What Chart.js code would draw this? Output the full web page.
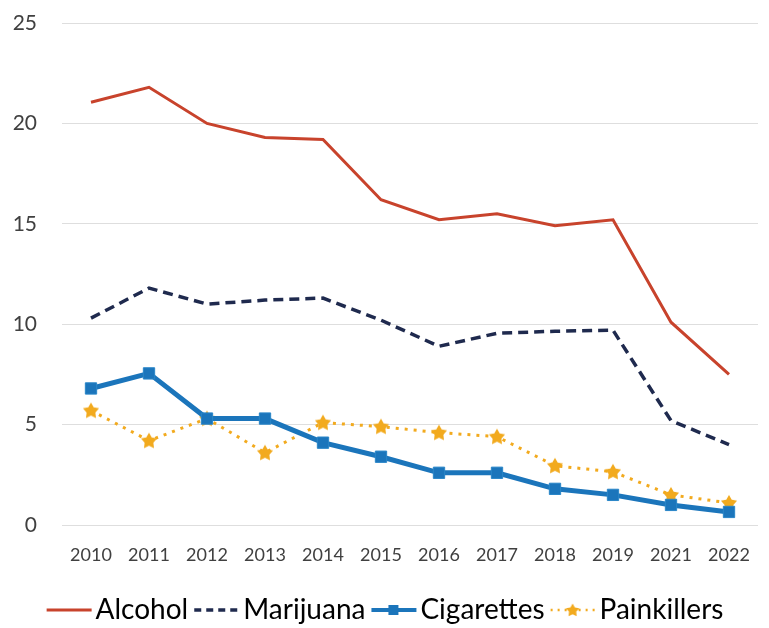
<!DOCTYPE html>
<html>
<head>
<meta charset="utf-8">
<script src="https://cdn.jsdelivr.net/npm/chart.js@4"></script>
<style>
  html, body { margin: 0; padding: 0; background: #fff; }
  #wrap { width: 769px; height: 628px; }
</style>
</head>
<body>
<div id="wrap"><canvas id="use-chart"></canvas></div>
<script>
//data
const years = ["2010", "2011", "2012", "2013", "2014", "2015", "2016", "2017", "2018", "2019", "2021", "2022"];
const alcohol = [21.05, 21.8, 20.0, 19.3, 19.2, 16.2, 15.2, 15.5, 14.9, 15.2, 10.1, 7.5];
const marijuana = [10.3, 11.8, 11.0, 11.2, 11.3, 10.2, 8.9, 9.55, 9.65, 9.7, 5.2, 4.0];
const cigarettes = [6.8, 7.55, 5.3, 5.3, 4.1, 3.4, 2.6, 2.6, 1.8, 1.5, 1.0, 0.65];
const painkillers = [5.7, 4.2, 5.3, 3.6, 5.1, 4.9, 4.6, 4.4, 2.95, 2.65, 1.5, 1.1];
const yTicks = [0, 5, 10, 15, 20, 25];

const RED = '#c8432c';
const NAVY = '#1f2a4e';
const BLUE = '#1b75bb';
const GOLD = '#f2aa1e';

//filled star used as a marker
function drawStar(ctx, cx, cy, outer, inner) {
    ctx.beginPath();
    for (let i = 0; i < 10; i++) {
        const r = i % 2 === 0 ? outer : inner;
        const a = -Math.PI / 2 + i * Math.PI / 5;
        ctx.lineTo(cx + r * Math.cos(a), cy + r * Math.sin(a));
    }
    ctx.closePath();
    ctx.fill();
}
const starImg = document.createElement('canvas');
starImg.width = 18;
starImg.height = 18;
(function () {
    const c = starImg.getContext('2d');
    c.fillStyle = GOLD;
    drawStar(c, 9, 9.5, 8.5, 4.6);
})();

//legend samples: a short line, with the marker on it
//image is wider than the legend box so the line runs up to the text
function sample(color, width, dash, marker) {
    const cv = document.createElement('canvas');
    cv.width = 64;
    cv.height = 20;
    const c = cv.getContext('2d');
    c.strokeStyle = color;
    c.lineWidth = width;
    c.setLineDash(dash);
    c.beginPath();
    c.moveTo(15, 10);
    c.lineTo(60, 10);
    c.stroke();
    c.setLineDash([]);
    if (marker === 'rect') {
        c.fillStyle = color;
        c.fillRect(32, 5, 10, 10);
    } else if (marker === 'star') {
        c.fillStyle = GOLD;
        drawStar(c, 37, 10.5, 7, 3.8);
    }
    return cv;
}
const legendImgs = [
    sample(RED, 3, [], null),
    sample(NAVY, 3.5, [7, 5], null),
    sample(BLUE, 4, [], 'rect'),
    sample(GOLD, 2.5, [2, 5], 'star')
];

//make the legend box a bit shorter so its text sits lower
const legendShift = {
    id: 'legendShift',
    beforeUpdate: chart => {
        const legend = chart.legend;
        if (legend && !legend._shifted) {
            const fit = legend.fit;
            legend.fit = function () {
                fit.call(this);
                this.height -= 6;
            };
            legend._shifted = true;
        }
    }
};

const FONT = 'Lato, "Open Sans", sans-serif';

const CHART = document.getElementById('use-chart');
let useChart = new Chart(CHART, {
    type: 'line',
    data: {
        labels: years,
        datasets: [
        { label: 'Alcohol', data: alcohol,
          borderColor: RED, borderWidth: 3, pointRadius: 0, tension: 0 },
        { label: 'Marijuana', data: marijuana,
          borderColor: NAVY, borderWidth: 3.5, borderDash: [10, 6], pointRadius: 0, tension: 0 },
        { label: 'Cigarettes', data: cigarettes,
          borderColor: BLUE, borderWidth: 5, tension: 0,
          pointStyle: 'rect', pointRadius: 8, pointBackgroundColor: BLUE,
          pointBorderColor: '#2a86c8', pointBorderWidth: 1 },
        { label: 'Painkillers', data: painkillers,
          borderColor: GOLD, borderWidth: 3, borderDash: [3, 6], tension: 0,
          pointStyle: starImg, pointRadius: 8 }
        ]
    },
    options: {
        responsive: true,
        maintainAspectRatio: false,
        animation: false,
        layout: { padding: { top: 23, right: 0, left: 0, bottom: 0 } },
        scales: {
            x: {
                offset: true,
                grid: { display: false, offset: true },
                border: { display: false },
                ticks: { color: '#404040', font: { family: FONT, size: 18 }, padding: 11, maxRotation: 0, autoSkip: false },
                afterFit: axis => { axis.height = 66; }
            },
            y: {
                min: 0,
                max: 25,
                afterBuildTicks: axis => { axis.ticks = yTicks.map(v => ({ value: v })); },
                grid: { color: '#dedede', lineWidth: 1, drawTicks: false },
                border: { display: false },
                ticks: { color: '#404040', font: { family: FONT, size: 21 }, padding: 25 },
                afterFit: axis => {
                    axis.width = 62;
                    axis.paddingTop = 0;
                    axis.paddingBottom = 0;
                }
            }
        },
        plugins: {
            legend: {
                position: 'bottom',
                labels: {
                    color: '#1a1a1a',
                    font: { family: FONT, size: 28 },
                    usePointStyle: true,
                    pointStyleWidth: 36,
                    padding: 5,
                    generateLabels: chart => chart.data.datasets.map((ds, i) => ({
                        text: ds.label,
                        pointStyle: legendImgs[i],
                        datasetIndex: i,
                        hidden: false,
                        fillStyle: 'transparent',
                        strokeStyle: 'transparent',
                        lineWidth: 0
                    }))
                }
            },
            tooltip: { enabled: false }
        }
    },
    plugins: [legendShift]
});
</script>
</body>
</html>
